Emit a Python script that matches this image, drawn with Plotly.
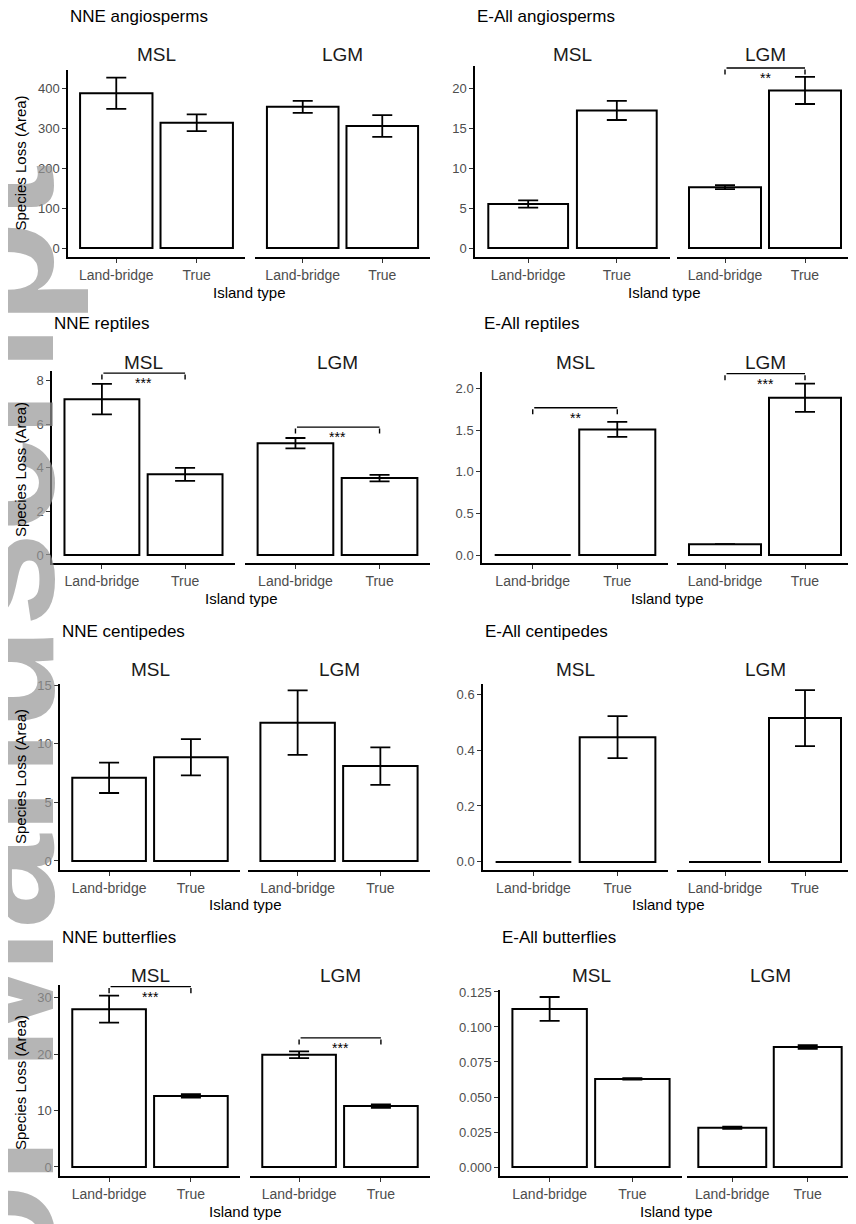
import plotly.graph_objects as go

W, H = 856, 1224

categories = ["Land-bridge", "True"]
periods = ["MSL", "LGM"]

# values ordered: [MSL Land-bridge, MSL True, LGM Land-bridge, LGM True]
nne_angiosperms_mean = [387, 313, 353, 305]
nne_angiosperms_se = [39, 21, 15, 27]
eall_angiosperms_mean = [5.5, 17.2, 7.6, 19.7]
eall_angiosperms_se = [0.45, 1.2, 0.25, 1.7]
nne_reptiles_mean = [7.15, 3.7, 5.13, 3.53]
nne_reptiles_se = [0.7, 0.3, 0.24, 0.15]
eall_reptiles_mean = [0.0, 1.51, 0.13, 1.89]
eall_reptiles_se = [0.0, 0.09, 0.0, 0.17]
nne_centipedes_mean = [7.1, 8.85, 11.8, 8.1]
nne_centipedes_se = [1.3, 1.55, 2.75, 1.6]
eall_centipedes_mean = [0.0, 0.446, 0.0, 0.514]
eall_centipedes_se = [0.0, 0.075, 0.0, 0.1]
nne_butterflies_mean = [28.0, 12.6, 19.9, 10.8]
nne_butterflies_se = [2.4, 0.3, 0.6, 0.3]
eall_butterflies_mean = [0.1129, 0.0629, 0.028, 0.0857]
eall_butterflies_se = [0.0085, 0.0005, 0.0008, 0.0013]

# significance brackets: (period, bracket height, label)
nne_angiosperms_sig = []
eall_angiosperms_sig = [("LGM", 22.5, "**")]
nne_reptiles_sig = [("MSL", 8.35, "***"), ("LGM", 5.87, "***")]
eall_reptiles_sig = [("MSL", 1.77, "**"), ("LGM", 2.18, "***")]
nne_centipedes_sig = []
eall_centipedes_sig = []
nne_butterflies_sig = [("MSL", 32.0, "***"), ("LGM", 22.9, "***")]
eall_butterflies_sig = []

panel_titles = ["NNE angiosperms", "E-All angiosperms", "NNE reptiles", "E-All reptiles",
                "NNE centipedes", "E-All centipedes", "NNE butterflies", "E-All butterflies"]

y_ticks = [
    [0, 100, 200, 300, 400],
    [0, 5, 10, 15, 20],
    [0, 2, 4, 6, 8],
    [0, 0.5, 1.0, 1.5, 2.0],
    [0, 5, 10, 15],
    [0, 0.2, 0.4, 0.6],
    [0, 10, 20, 30],
    [0, 0.025, 0.05, 0.075, 0.1, 0.125],
]
y_tickformat = ["", "", "", ".1f", "", ".1f", "", ".3f"]

y_title = "Species Loss (Area)"
x_title = "Island type"

means = [nne_angiosperms_mean, eall_angiosperms_mean, nne_reptiles_mean, eall_reptiles_mean,
         nne_centipedes_mean, eall_centipedes_mean, nne_butterflies_mean, eall_butterflies_mean]
ses = [nne_angiosperms_se, eall_angiosperms_se, nne_reptiles_se, eall_reptiles_se,
       nne_centipedes_se, eall_centipedes_se, nne_butterflies_se, eall_butterflies_se]
sigs = [nne_angiosperms_sig, eall_angiosperms_sig, nne_reptiles_sig, eall_reptiles_sig,
        nne_centipedes_sig, eall_centipedes_sig, nne_butterflies_sig, eall_butterflies_sig]

# ---- layout geometry (pixels, page coordinates) ----
OFF = 8  # default body margin of the html page
row_top = [70, 377, 684, 990]
row_bot = [257, 563, 870, 1176]
# y-axis x, facet1 right, facet2 left, facet2 right
h_geom = [
    (68, 245, 255, 430), (475, 670, 677, 853),
    (52, 235, 245, 430), (482, 668, 677, 853),
    (60, 240, 248, 430), (483, 668, 677, 853),
    (60, 240, 250, 430), (500, 682, 687, 853),
]
y_ranges = [
    [-22.5, 445], [-1.125, 22.25], [-0.37, 8.17], [-0.096, 2.14],
    [-0.77, 15.1], [-0.029, 0.636], [-1.6, 31.4], [-0.0064, 0.1264],
]

FONT = "Liberation Sans, Arial, sans-serif"
TICK_COL = "#4d4d4d"


def px_x(p):
    return (p - OFF) / W


def px_y(p):
    return 1 - (p - OFF) / H


fig = go.Figure()
layout_axes = {}
annotations = []

# watermark (drawn first so chart text sits above it)
annotations.append(dict(
    text="<b>Author Manuscript</b>", xref="paper", yref="paper", textangle=-90,
    x=px_x(-6), y=px_y(920), showarrow=False,
    font=dict(family=FONT, size=170, color="rgba(150,150,150,0.7)"),
    xanchor="center", yanchor="middle",
))

n = 0
for i in range(8):
    row = i // 2
    top, bot = row_top[row], row_bot[row]
    xl, f1r, f2l, f2r = h_geom[i]
    facet_x = [(xl, f1r), (f2l, f2r)]
    lo, hi = y_ranges[i]
    rng = hi - lo
    # extend the range to hold brackets, keeping the same scale
    hi_eff = max([hi] + [s[1] + 0.01 * rng for s in sigs[i]])
    top_eff = top - (hi_eff - hi) * (bot - top) / rng
    first_y = None
    for f in range(2):
        n += 1
        xname = "x" if n == 1 else f"x{n}"
        yname = "y" if n == 1 else f"y{n}"
        xkey = "xaxis" if n == 1 else f"xaxis{n}"
        ykey = "yaxis" if n == 1 else f"yaxis{n}"
        m = means[i][2 * f:2 * f + 2]
        e = ses[i][2 * f:2 * f + 2]
        fig.add_trace(go.Bar(
            x=categories, y=m, width=0.9,
            marker=dict(color="white", line=dict(color="black", width=2)),
            error_y=dict(type="data", array=e, color="black", thickness=1.8, width=10),
            xaxis=xname, yaxis=yname, showlegend=False,
        ))
        x0, x1 = facet_x[f]
        layout_axes[xkey] = dict(
            domain=[px_x(x0), px_x(x1)], anchor=yname, type="category",
            range=[-0.6, 1.6], showline=True, linecolor="black", linewidth=1.5,
            ticks="outside", ticklen=4, tickcolor="#333", tickwidth=1,
            tickfont=dict(family=FONT, size=14, color=TICK_COL),
            showgrid=False, zeroline=False, fixedrange=True,
        )
        yax = dict(
            domain=[px_y(bot), px_y(top_eff)], anchor=xname, range=[lo, hi_eff],
            showgrid=False, zeroline=False, fixedrange=True,
        )
        if f == 0:
            first_y = yname
            yax.update(showline=True, linecolor="black", linewidth=1.5,
                       ticks="outside", ticklen=4, tickcolor="#333", tickwidth=1,
                       tickvals=y_ticks[i], tickformat=y_tickformat[i],
                       tickfont=dict(family=FONT, size=13, color=TICK_COL))
        else:
            yax.update(showline=False, showticklabels=False, ticks="", matches=first_y)
        layout_axes[ykey] = yax

        # facet strip label
        annotations.append(dict(
            text=periods[f], xref=f"{xname} domain", yref="paper",
            x=0.5, y=px_y(top - 15), showarrow=False,
            font=dict(family=FONT, size=19, color="#1a1a1a"),
            xanchor="center", yanchor="middle",
        ))

        # significance brackets
        tip = 0.035 * rng
        for per, hgt, lab in sigs[i]:
            if per != periods[f]:
                continue
            common = dict(xref=xname, yref=yname, axref=xname, ayref=yname,
                          showarrow=True, arrowhead=0, arrowwidth=1.4,
                          arrowcolor="black", text="", font=dict(size=1),
                          standoff=0, startstandoff=0)
            annotations.append(dict(x=1, y=hgt, ax=0, ay=hgt, **common))
            annotations.append(dict(x=0, y=hgt - tip, ax=0, ay=hgt, **common))
            annotations.append(dict(x=1, y=hgt - tip, ax=1, ay=hgt, **common))
            annotations.append(dict(
                text=lab, xref=xname, yref=yname, x=0.5, y=hgt, yshift=-10,
                showarrow=False, font=dict(family=FONT, size=14, color="black"),
                xanchor="center", yanchor="middle",
            ))

    # panel title
    annotations.append(dict(
        text=panel_titles[i], xref="paper", yref="paper",
        x=px_x(xl), y=px_y(top - 53), showarrow=False,
        font=dict(family=FONT, size=17, color="black"),
        xanchor="left", yanchor="middle",
    ))
    # x axis title
    annotations.append(dict(
        text=x_title, xref="paper", yref="paper",
        x=px_x((xl + h_geom[i][3]) / 2), y=px_y(bot + 35), showarrow=False,
        font=dict(family=FONT, size=15, color="black"),
        xanchor="center", yanchor="middle",
    ))
    # y axis title (left column only)
    if i % 2 == 0:
        annotations.append(dict(
            text=y_title, xref="paper", yref="paper", textangle=-90,
            x=px_x(20), y=px_y((top + bot) / 2), showarrow=False,
            font=dict(family=FONT, size=15, color="black"),
            xanchor="center", yanchor="middle",
        ))

fig.update_layout(
    width=W, height=H, margin=dict(l=0, r=0, t=0, b=0, autoexpand=False),
    paper_bgcolor="white", plot_bgcolor="white",
    showlegend=False, bargap=0.1,
    annotations=annotations, **layout_axes,
)

fig.write_html("out.html")
